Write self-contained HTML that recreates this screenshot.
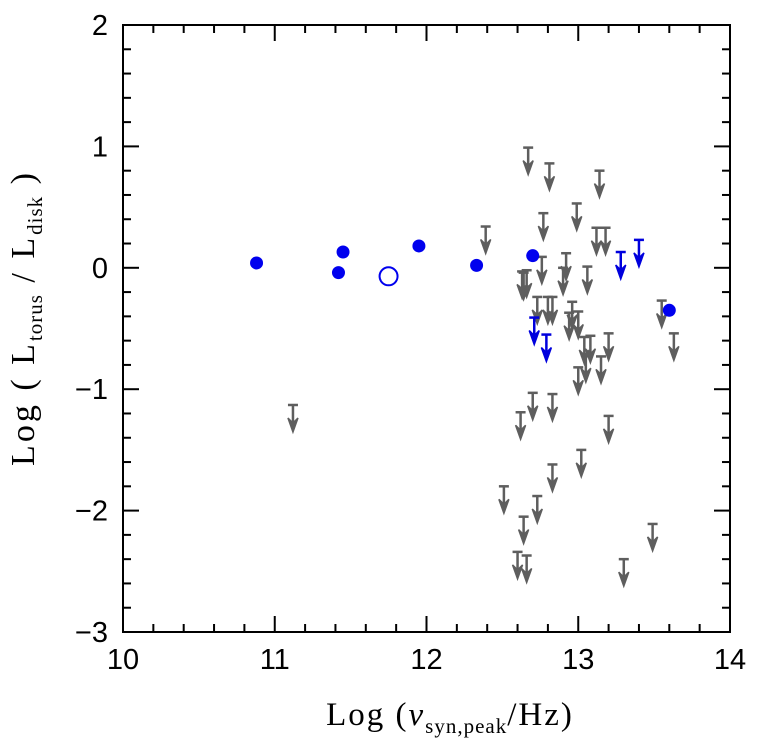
<!DOCTYPE html>
<html><head><meta charset="utf-8"><style>
body{margin:0;background:#fff;}
svg{display:block;font-family:"Liberation Serif",serif;}
</style></head><body>
<svg id="chart" width="764" height="743">
<rect x="123" y="25" width="607" height="607" fill="none" stroke="#000" stroke-width="2"/>
<g id="ticks"></g><g id="marks"></g>
<text x="450" y="725" text-anchor="middle" font-size="33" letter-spacing="2">Log (<tspan font-style="italic">ν</tspan><tspan font-size="21" dy="8" letter-spacing="1">syn,peak</tspan><tspan dy="-8">/Hz)</tspan></text>
<text transform="translate(34,318) rotate(-90)" text-anchor="middle" font-size="34" letter-spacing="3">Log ( L<tspan font-size="21" dy="8" letter-spacing="1">torus</tspan><tspan dy="-8"> / L</tspan><tspan font-size="21" dy="8" letter-spacing="1">disk</tspan><tspan dy="-8"> )</tspan></text>
</svg>
<script>
const xTicks=[10,11,12,13,14];
const yTicks=[2,1,0,-1,-2,-3];
const yTickLabels=["2","1","0","−1","−2","−3"];
const grayPts=[[12.67,0.99],[12.81,0.86],[13.14,0.80],[12.77,0.45],[12.99,0.53],[12.39,0.34],[13.12,0.33],[13.18,0.33],[12.76,0.09],[12.92,0.12],[12.90,0.00],[13.06,0.01],[12.63,-0.03],[12.66,-0.02],[12.64,-0.04],[12.73,-0.24],[12.80,-0.24],[12.83,-0.24],[12.96,-0.28],[12.94,-0.37],[13.00,-0.36],[13.55,-0.27],[13.63,-0.54],[13.04,-0.57],[13.08,-0.56],[13.20,-0.54],[13.05,-0.72],[13.15,-0.73],[13.00,-0.82],[12.70,-1.03],[12.83,-1.04],[12.62,-1.19],[13.20,-1.22],[13.02,-1.50],[12.83,-1.62],[12.51,-1.80],[12.73,-1.88],[12.64,-2.05],[12.60,-2.34],[12.66,-2.37],[13.49,-2.11],[13.30,-2.40],[11.12,-1.13]];
const blueArrowX=[13.28,13.40,12.71,12.79];
const blueArrowY=[0.13,0.23,-0.41,-0.55];
const dotX=[10.88,11.42,11.45,11.95,12.33,12.70,13.60];
const dotY=[0.04,-0.04,0.13,0.18,0.02,0.10,-0.35];
const openX=[11.75];
const openY=[-0.07];
const X0=123,X1=730,Y0=632,Y1=25;
const sx=v=>X0+(v-10)/4*(X1-X0);
const sy=v=>Y0-(v+3)/5*(Y0-Y1);
const NS="http://www.w3.org/2000/svg";
function mk(tag,attrs,parent){const e=document.createElementNS(NS,tag);for(const k in attrs)e.setAttribute(k,attrs[k]);parent.appendChild(e);return e;}
const tg=document.getElementById('ticks'),mg=document.getElementById('marks');
for(let i=0;i<=20;i++){const v=10+i*0.2,x=sx(v),L=(i%5==0)?16:8;
 mk('line',{x1:x,x2:x,y1:Y0,y2:Y0-L,stroke:'#000','stroke-width':2},tg);
 mk('line',{x1:x,x2:x,y1:Y1,y2:Y1+L,stroke:'#000','stroke-width':2},tg);}
for(let i=0;i<=25;i++){const v=-3+i*0.2,y=sy(v),L=(i%5==0)?16:8;
 mk('line',{x1:X0,x2:X0+L,y1:y,y2:y,stroke:'#000','stroke-width':2},tg);
 mk('line',{x1:X1,x2:X1-L,y1:y,y2:y,stroke:'#000','stroke-width':2},tg);}
xTicks.forEach(v=>{const t=mk('text',{x:sx(v),y:669,'text-anchor':'middle','font-size':29,'font-family':'Liberation Sans, sans-serif'},tg);t.textContent=v;

});
yTicks.forEach((v,i)=>{const t=mk('text',{x:108,y:sy(v)+10,'text-anchor':'end','font-size':29,'font-family':'Liberation Sans, sans-serif'},tg);t.textContent=yTickLabels[i];

});
function arrow(xv,yv,col,name){const x=sx(xv),y=sy(yv);const g=mk('g',{stroke:col,fill:col,'stroke-width':2.5},mg);
 
 
 mk('line',{x1:x-5,x2:x+5,y1:y,y2:y},g);
 mk('line',{x1:x,x2:x,y1:y,y2:y+20},g);
 mk('path',{d:`M${x-5},${y+13} L${x},${y+27} L${x+5},${y+13} L${x},${y+18} Z`,'stroke-width':1.5},g);}
grayPts.forEach(p=>arrow(p[0],p[1],'#5e5e5e','upper-limit-arrow'));
blueArrowX.forEach((v,i)=>arrow(v,blueArrowY[i],'#0000dd','blue-upper-limit-arrow'));
dotX.forEach((v,i)=>{const c=mk('circle',{cx:sx(v),cy:sy(dotY[i]),r:6.5,fill:'#0000ee'},mg);

});
openX.forEach((v,i)=>{const c=mk('circle',{cx:sx(v),cy:sy(openY[i]),r:9,fill:'none',stroke:'#0000ee','stroke-width':2},mg);

});
</script>
</body></html>
